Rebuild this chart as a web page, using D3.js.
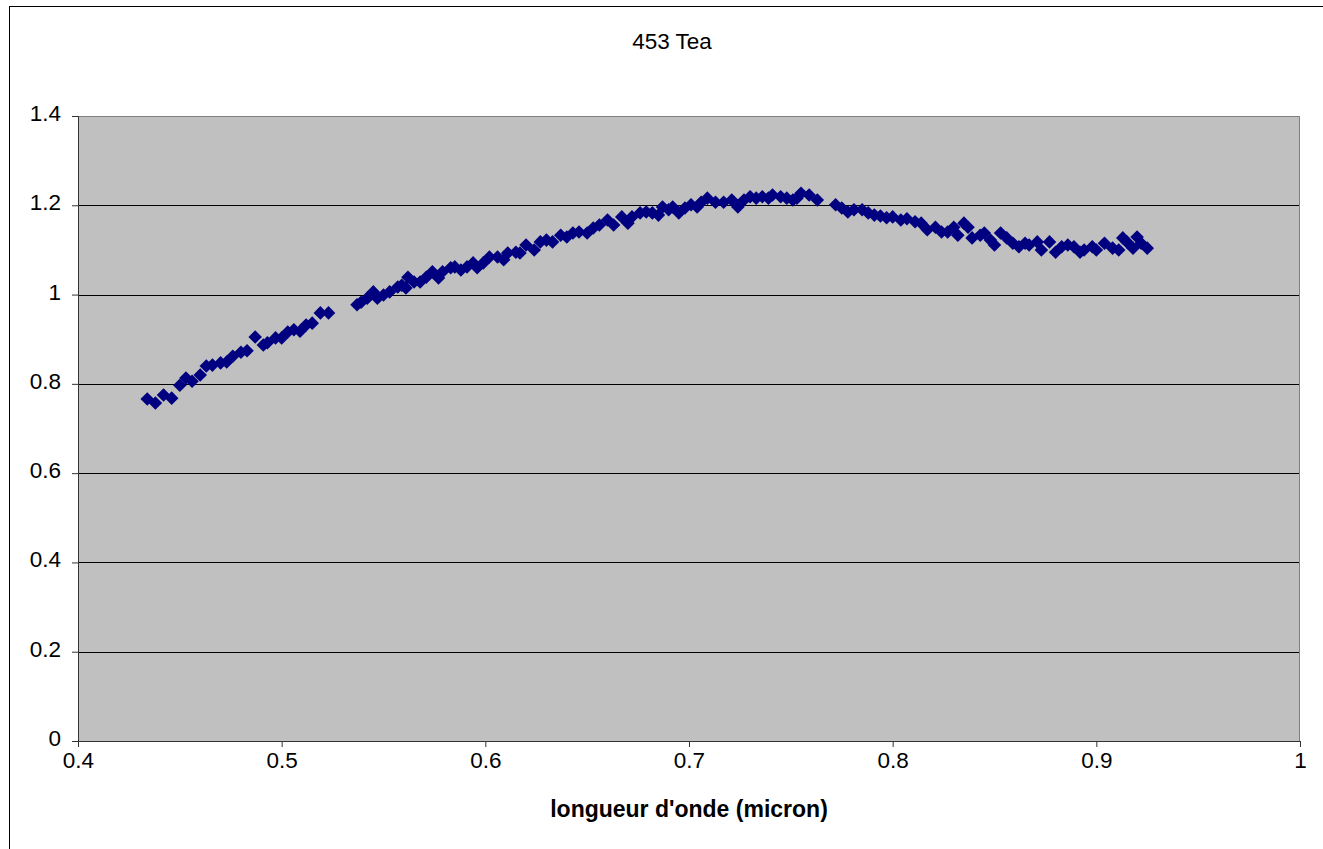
<!DOCTYPE html>
<html>
<head>
<meta charset="utf-8">
<script src="https://cdn.jsdelivr.net/npm/d3@7"></script>
<style>
  body { margin: 0; background: #fff; }
  text { font-family: Arial, "Liberation Sans", sans-serif; }
</style>
</head>
<body>
<div class="canvas"></div>
<script>
// wavelength (micron) and reflectance
const wavelengths = [
  0.434, 0.438, 0.442, 0.446, 0.450, 0.453, 0.456, 0.460, 0.463, 0.466,
  0.470, 0.473, 0.476, 0.480, 0.483, 0.487, 0.491, 0.493, 0.497, 0.500,
  0.503, 0.506, 0.509, 0.512, 0.515, 0.519, 0.523,
  0.537, 0.539, 0.542, 0.545, 0.547, 0.550, 0.553, 0.557, 0.559, 0.561,
  0.562, 0.565, 0.568, 0.571, 0.574, 0.577, 0.579, 0.583, 0.585, 0.588,
  0.591, 0.594, 0.596, 0.599, 0.602, 0.606, 0.609, 0.611, 0.615, 0.617,
  0.620, 0.624, 0.627, 0.630, 0.633, 0.637, 0.640, 0.643, 0.646, 0.650,
  0.653, 0.656, 0.660, 0.663, 0.667, 0.670, 0.672, 0.676, 0.679, 0.682,
  0.685, 0.687, 0.690, 0.692, 0.695, 0.698, 0.701, 0.704, 0.706, 0.709,
  0.713, 0.717, 0.721, 0.724, 0.727, 0.730, 0.733, 0.736, 0.739, 0.741,
  0.745, 0.748, 0.751, 0.753, 0.755, 0.759, 0.763,
  0.772, 0.775, 0.778, 0.781, 0.785, 0.788, 0.791, 0.794, 0.797, 0.800,
  0.804, 0.807, 0.811, 0.814, 0.817, 0.821, 0.824, 0.827, 0.830, 0.832,
  0.835, 0.837, 0.839, 0.843, 0.845, 0.848, 0.850, 0.853, 0.856, 0.859,
  0.862, 0.865, 0.867, 0.871, 0.873, 0.877, 0.880, 0.883, 0.886, 0.889,
  0.892, 0.894, 0.898, 0.900, 0.904, 0.908, 0.911, 0.913, 0.915, 0.918,
  0.920, 0.922, 0.925
];
const reflectance = [
  0.766, 0.757, 0.775, 0.768, 0.797, 0.813, 0.806, 0.820, 0.840, 0.842,
  0.847, 0.849, 0.862, 0.871, 0.874, 0.905, 0.887, 0.892, 0.903, 0.903,
  0.916, 0.921, 0.918, 0.932, 0.936, 0.959, 0.959,
  0.977, 0.983, 0.992, 1.006, 0.992, 0.999, 1.006, 1.017, 1.021, 1.015,
  1.039, 1.028, 1.028, 1.039, 1.051, 1.037, 1.051, 1.060, 1.062, 1.055,
  1.062, 1.071, 1.060, 1.071, 1.084, 1.084, 1.078, 1.093, 1.095, 1.093,
  1.111, 1.100, 1.118, 1.122, 1.118, 1.133, 1.129, 1.138, 1.140, 1.138,
  1.149, 1.156, 1.167, 1.156, 1.174, 1.160, 1.174, 1.183, 1.185, 1.183,
  1.178, 1.196, 1.190, 1.196, 1.183, 1.194, 1.201, 1.196, 1.207, 1.216,
  1.207, 1.207, 1.212, 1.196, 1.212, 1.219, 1.216, 1.219, 1.216, 1.223,
  1.219, 1.216, 1.212, 1.216, 1.227, 1.223, 1.212,
  1.201, 1.194, 1.185, 1.190, 1.190, 1.183, 1.178, 1.176, 1.172, 1.174,
  1.167, 1.170, 1.163, 1.160, 1.145, 1.151, 1.140, 1.140, 1.151, 1.133,
  1.160, 1.151, 1.127, 1.133, 1.138, 1.122, 1.111, 1.138, 1.127, 1.115,
  1.107, 1.115, 1.111, 1.118, 1.100, 1.118, 1.095, 1.107, 1.111, 1.107,
  1.095, 1.100, 1.107, 1.100, 1.115, 1.104, 1.100, 1.127, 1.118, 1.104,
  1.129, 1.115, 1.104
];
const xTicks = [0.4, 0.5, 0.6, 0.7, 0.8, 0.9, 1];
const yTicks = [0, 0.2, 0.4, 0.6, 0.8, 1, 1.2, 1.4];
const title = '453 Tea';
const xTitle = "longueur d'onde (micron)";

const data = wavelengths.map((w, i) => ({ w: w, r: reflectance[i] }));

const svg = d3.select('.canvas')
  .append('svg')
    .attr('width', 1323)
    .attr('height', 849);

// outer chart border
svg.append('rect')
  .attr('x', 9.5).attr('y', 6.5)
  .attr('width', 1330).attr('height', 860)
  .attr('fill', '#fff')
  .attr('stroke', '#000');

const margin = { top: 116, left: 78 };
const graphWidth = 1300 - 78;
const graphHeight = 741 - 116;

const graph = svg.append('g')
  .attr('transform', `translate(${margin.left}, ${margin.top})`);

const x = d3.scaleLinear().domain([0.4, 1]).range([0, graphWidth]);
const y = d3.scaleLinear().domain([0, 1.4]).range([graphHeight, 0]);

// plot area
graph.append('rect')
  .attr('width', graphWidth).attr('height', graphHeight)
  .attr('fill', '#c0c0c0');

// gridlines
graph.selectAll('line.grid')
  .data(yTicks.filter(d => d > 0 && d < 1.4))
  .enter().append('line')
    .attr('class', 'grid')
    .attr('x1', 0).attr('x2', graphWidth)
    .attr('y1', d => Math.round(y(d)) + 0.5)
    .attr('y2', d => Math.round(y(d)) + 0.5)
    .attr('stroke', '#000');

// top and right border of plot
graph.append('path')
  .attr('d', `M0,0.5H${graphWidth - 0.5}V${graphHeight}`)
  .attr('fill', 'none')
  .attr('stroke', '#808080');

// axes
const xAxis = d3.axisBottom(x).tickValues(xTicks).tickSize(6).tickPadding(5)
  .tickFormat(d3.format('~g'));
const yAxis = d3.axisLeft(y).tickValues(yTicks).tickSize(6).tickPadding(11)
  .tickFormat(d3.format('~g'));

const xAxisGroup = graph.append('g')
  .attr('transform', `translate(0, ${graphHeight})`)
  .call(xAxis);
const yAxisGroup = graph.append('g').call(yAxis);

[xAxisGroup, yAxisGroup].forEach(g => {
  g.attr('font-size', 22.5).attr('font-family', 'Arial, "Liberation Sans", sans-serif');
  g.select('.domain').attr('stroke', '#333');
  g.selectAll('.tick line').attr('stroke', '#333');
  g.selectAll('text').attr('fill', '#000');
});
yAxisGroup.selectAll('text').attr('dy', '0.2em');

// markers
const diamond = d3.symbol().type(d3.symbolSquare).size(92);
graph.selectAll('path.pt')
  .data(data)
  .enter().append('path')
    .attr('class', 'pt')
    .attr('d', diamond)
    .attr('transform', d => `translate(${x(d.w)}, ${y(d.r)}) rotate(45)`)
    .attr('fill', '#000080');

// titles
svg.append('text')
  .attr('x', 672)
  .attr('y', 49)
  .attr('text-anchor', 'middle')
  .attr('font-size', 22.5)
  .text(title);

svg.append('text')
  .attr('x', margin.left + graphWidth / 2)
  .attr('y', 817)
  .attr('text-anchor', 'middle')
  .attr('font-size', 23)
  .attr('font-weight', 'bold')
  .text(xTitle);
</script>
</body>
</html>
